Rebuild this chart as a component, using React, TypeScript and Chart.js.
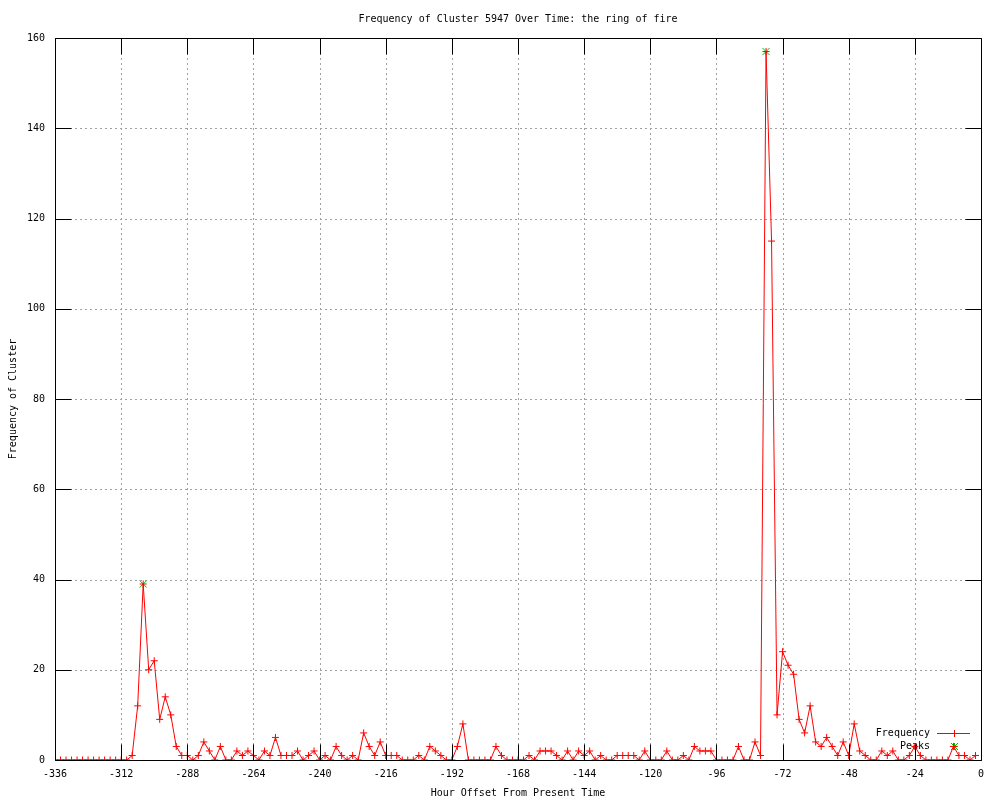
import React, { useEffect, useRef } from 'react';
import { Chart, registerables } from 'chart.js';

Chart.register(...registerables);

// ---- data ----
const hours = [
  -336, -334, -332, -330, -328, -326, -324, -322, -320, -318, -316, -314,
  -312, -310, -308, -306, -304, -302, -300, -298, -296, -294, -292, -290,
  -288, -286, -284, -282, -280, -278, -276, -274, -272, -270, -268, -266,
  -264, -262, -260, -258, -256, -254, -252, -250, -248, -246, -244, -242,
  -240, -238, -236, -234, -232, -230, -228, -226, -224, -222, -220, -218,
  -216, -214, -212, -210, -208, -206, -204, -202, -200, -198, -196, -194,
  -192, -190, -188, -186, -184, -182, -180, -178, -176, -174, -172, -170,
  -168, -166, -164, -162, -160, -158, -156, -154, -152, -150, -148, -146,
  -144, -142, -140, -138, -136, -134, -132, -130, -128, -126, -124, -122,
  -120, -118, -116, -114, -112, -110, -108, -106, -104, -102, -100, -98,
  -96, -94, -92, -90, -88, -86, -84, -82, -80, -78, -76, -74,
  -72, -70, -68, -66, -64, -62, -60, -58, -56, -54, -52, -50,
  -48, -46, -44, -42, -40, -38, -36, -34, -32, -30, -28, -26,
  -24, -22, -20, -18, -16, -14, -12, -10, -8, -6, -4, -2,
];

const frequency = [
  0, 0, 0, 0, 0, 0, 0, 0, 0, 0, 0, 0,
  0, 0, 1, 12, 39, 20, 22, 9, 14, 10, 3, 1,
  1, 0, 1, 4, 2, 0, 3, 0, 0, 2, 1, 2,
  1, 0, 2, 1, 5, 1, 1, 1, 2, 0, 1, 2,
  0, 1, 0, 3, 1, 0, 1, 0, 6, 3, 1, 4,
  1, 1, 1, 0, 0, 0, 1, 0, 3, 2, 1, 0,
  0, 3, 8, 0, 0, 0, 0, 0, 3, 1, 0, 0,
  0, 0, 1, 0, 2, 2, 2, 1, 0, 2, 0, 2,
  1, 2, 0, 1, 0, 0, 1, 1, 1, 1, 0, 2,
  0, 0, 0, 2, 0, 0, 1, 0, 3, 2, 2, 2,
  0, 0, 0, 0, 3, 0, 0, 4, 1, 157, 115, 10,
  24, 21, 19, 9, 6, 12, 4, 3, 5, 3, 1, 4,
  1, 8, 2, 1, 0, 0, 2, 1, 2, 0, 0, 1,
  3, 1, 0, 0, 0, 0, 0, 3, 1, 1, 0, 1,
];

const peakHours = [-304, -78];
const peakValues = [39, 157];

const xTickValues = [-336, -312, -288, -264, -240, -216, -192, -168, -144, -120, -96, -72, -48, -24, 0];
const yTickValues = [0, 20, 40, 60, 80, 100, 120, 140, 160];

const titleText = 'Frequency of Cluster 5947 Over Time: the ring of fire';
const xTitle = 'Hour Offset From Present Time';
const yTitle = 'Frequency of Cluster';
const seriesLabel = 'Frequency';
const peaksLabel = 'Peaks';

// ---- styles ----
const FONT = '"DejaVu Sans Mono", "Liberation Mono", monospace';
const RED = '#ff0000';
const GREEN = '#00c000';
const GRID = '#a0a0a0';
const TICK_LEN = 16;

function drawPlus(ctx: CanvasRenderingContext2D, x: number, y: number, r: number) {
  ctx.beginPath();
  ctx.moveTo(x - r, y);
  ctx.lineTo(x + r, y);
  ctx.moveTo(x, y - r);
  ctx.lineTo(x, y + r);
  ctx.stroke();
}
function drawX(ctx: CanvasRenderingContext2D, x: number, y: number, r: number) {
  ctx.beginPath();
  ctx.moveTo(x - r, y - r);
  ctx.lineTo(x + r, y + r);
  ctx.moveTo(x - r, y + r);
  ctx.lineTo(x + r, y - r);
  ctx.stroke();
}

const framePlugin = {
  id: 'gnuplotFrame',
  beforeDatasetsDraw(chart: any) {
    const { ctx, chartArea } = chart;
    const { left, right, top, bottom } = chartArea;
    const xs = chart.scales.x;
    const ys = chart.scales.y;
    ctx.save();
    // dotted grid
    ctx.strokeStyle = GRID;
    ctx.lineWidth = 1;
    ctx.setLineDash([2, 3]);
    ctx.beginPath();
    xTickValues.forEach((v) => {
      const p = Math.round(xs.getPixelForValue(v)) + 0.5;
      ctx.moveTo(p, top);
      ctx.lineTo(p, bottom);
    });
    yTickValues.forEach((v) => {
      const p = Math.round(ys.getPixelForValue(v)) + 0.5;
      ctx.moveTo(left, p);
      ctx.lineTo(right, p);
    });
    ctx.stroke();
    ctx.setLineDash([]);

    // legend (drawn under the data, like the reference)
    ctx.font = `10px ${FONT}`;
    ctx.fillStyle = '#000';
    ctx.textAlign = 'right';
    ctx.textBaseline = 'middle';
    const textX = right - 51;
    const sampleL = right - 44;
    const sampleR = right - 11;
    const sampleC = Math.round((sampleL + sampleR) / 2) + 0.5;
    const row1 = bottom - 27 + 0.5;
    const row2 = bottom - 14 + 0.5;
    ctx.fillText(seriesLabel, textX, row1);
    ctx.fillText(peaksLabel, textX, row2);
    ctx.strokeStyle = RED;
    ctx.lineWidth = 1;
    ctx.beginPath();
    ctx.moveTo(sampleL, row1);
    ctx.lineTo(sampleR, row1);
    ctx.stroke();
    drawPlus(ctx, sampleC, row1, 3.5);
    ctx.strokeStyle = GREEN;
    drawX(ctx, sampleC, row2, 3.5);
    drawPlus(ctx, sampleC, row2, 3.5);
    ctx.restore();
  },
  afterDatasetsDraw(chart: any) {
    const { ctx, chartArea } = chart;
    const { left, right, top, bottom } = chartArea;
    const xs = chart.scales.x;
    const ys = chart.scales.y;
    ctx.save();
    ctx.strokeStyle = '#000';
    ctx.lineWidth = 1;
    ctx.beginPath();
    const L = Math.round(left) + 0.5;
    const R = Math.round(right) + 0.5;
    const T = Math.round(top) + 0.5;
    const B = Math.round(bottom) + 0.5;
    ctx.rect(L, T, R - L, B - T);
    xTickValues.forEach((v) => {
      const p = Math.round(xs.getPixelForValue(v)) + 0.5;
      ctx.moveTo(p, B);
      ctx.lineTo(p, B - TICK_LEN);
      ctx.moveTo(p, T);
      ctx.lineTo(p, T + TICK_LEN);
    });
    yTickValues.forEach((v) => {
      const p = Math.round(ys.getPixelForValue(v)) + 0.5;
      ctx.moveTo(L, p);
      ctx.lineTo(L + TICK_LEN, p);
      ctx.moveTo(R, p);
      ctx.lineTo(R - TICK_LEN, p);
    });
    ctx.stroke();

    // title
    ctx.font = `10px ${FONT}`;
    ctx.fillStyle = '#000';
    ctx.textAlign = 'center';
    ctx.textBaseline = 'middle';
    ctx.fillText(titleText, (left + right) / 2, 19);
    ctx.restore();
  },
};

export default function App() {
  const canvasRef = useRef<HTMLCanvasElement | null>(null);

  useEffect(() => {
    document.body.style.margin = '0';
    const canvas = canvasRef.current;
    if (!canvas) return;

    const chart = new Chart(canvas, {
      type: 'line',
      data: {
        datasets: [
          {
            label: seriesLabel,
            data: hours.map((h, i) => ({ x: h, y: frequency[i] })),
            borderColor: RED,
            backgroundColor: RED,
            borderWidth: 1,
            tension: 0,
            fill: false,
            pointStyle: 'cross',
            pointRadius: 3.5,
            pointBorderWidth: 1,
            pointBorderColor: RED,
            pointHoverRadius: 3.5,
          },
          {
            label: peaksLabel,
            data: peakHours.map((h, i) => ({ x: h, y: peakValues[i] })),
            showLine: false,
            borderColor: GREEN,
            backgroundColor: GREEN,
            pointStyle: 'crossRot',
            pointRadius: 5,
            pointBorderWidth: 1,
            pointBorderColor: GREEN,
          },
        ],
      },
      options: {
        responsive: false,
        animation: false,
        devicePixelRatio: 1,
        layout: { padding: { top: 38, right: 19, left: 0, bottom: 0 } },
        plugins: {
          legend: { display: false },
          title: { display: false },
          tooltip: { enabled: false },
        },
        scales: {
          x: {
            type: 'linear',
            min: -336,
            max: 0,
            afterBuildTicks: (s: any) => {
              s.ticks = xTickValues.map((value) => ({ value }));
            },
            afterFit: (s: any) => {
              s.height = 40;
            },
            grid: { display: false, drawTicks: false, tickLength: 0 },
            border: { display: false },
            ticks: {
              color: '#000',
              font: { family: FONT, size: 10 },
              padding: 8,
              maxRotation: 0,
              autoSkip: false,
              callback: (v: any) => String(v),
            },
            title: {
              display: true,
              text: xTitle,
              color: '#000',
              font: { family: FONT, size: 10 },
              padding: { top: 1, bottom: 1 },
            },
          },
          y: {
            type: 'linear',
            min: 0,
            max: 160,
            afterBuildTicks: (s: any) => {
              s.ticks = yTickValues.map((value) => ({ value }));
            },
            afterFit: (s: any) => {
              s.width = 55;
            },
            grid: { display: false, drawTicks: false, tickLength: 0 },
            border: { display: false },
            ticks: {
              color: '#000',
              font: { family: FONT, size: 10 },
              padding: 10,
              autoSkip: false,
              callback: (v: any) => String(v),
            },
            title: {
              display: true,
              text: yTitle,
              color: '#000',
              font: { family: FONT, size: 10 },
              padding: { top: 7, bottom: 0 },
            },
          },
        },
      },
      plugins: [framePlugin],
    } as any);

    return () => {
      chart.destroy();
    };
  }, []);

  return (
    <div style={{ width: 1000, height: 800, background: '#fff' }}>
      <canvas ref={canvasRef} width={1000} height={800} style={{ display: 'block' }} />
    </div>
  );
}
